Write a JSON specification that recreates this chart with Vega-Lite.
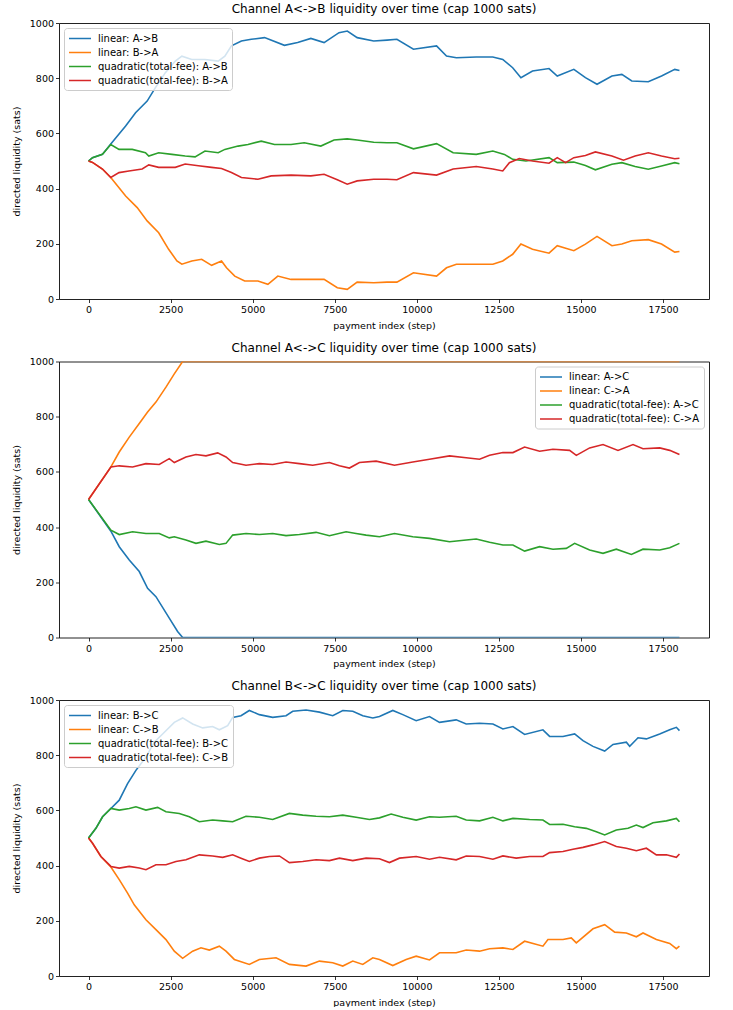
{
"$schema": "https://vega.github.io/schema/vega-lite/v6.json",
"padding": {"left": 10, "top": 2, "right": 5, "bottom": 0},
"spacing": 10.5,
"config": {
  "font": "DejaVu Sans",
  "view": {"stroke": "#222", "strokeWidth": 1},
  "axis": {"grid": false, "domain": false, "tickColor": "#000", "tickSize": 3.5, "tickWidth": 0.8, "labelColor": "#000", "labelFontSize": 9.5, "labelFont": "DejaVu Sans", "titleFont": "DejaVu Sans", "titleFontSize": 9.5, "titleFontWeight": "normal", "titleColor": "#000", "labelPadding": 2},
  "title": {"fontSize": 12, "fontWeight": "normal", "color": "#000", "font": "DejaVu Sans", "offset": 2, "frame": "group", "anchor": "middle"},
  "legend": {"orient": "top-left", "offset": 5, "fillColor": "rgba(255,255,255,0.8)", "strokeColor": "#cccccc", "cornerRadius": 3, "padding": 4, "symbolType": "M-1,0H3", "symbolSize": 121, "symbolStrokeWidth": 1.5, "labelFontSize": 10, "labelColor": "#000", "labelFont": "DejaVu Sans", "rowPadding": 2, "labelOffset": 17}
},
"resolve": {"scale": {"color": "independent"}, "legend": {"color": "independent"}},
"vconcat": [
{
  "width": 650, "height": 276,
  "title": "Channel A<->B liquidity over time (cap 1000 sats)",
  "data": {"values": [
{"series":"linear: A->B","step":0,"liq":500},{"series":"linear: A->B","step":121,"liq":512},{"series":"linear: A->B","step":423,"liq":524},{"series":"linear: A->B","step":677,"liq":562},{"series":"linear: A->B","step":1130,"liq":627},{"series":"linear: A->B","step":1432,"liq":675},{"series":"linear: A->B","step":1785,"liq":717},{"series":"linear: A->B","step":2037,"liq":766},{"series":"linear: A->B","step":2340,"liq":820},{"series":"linear: A->B","step":2642,"liq":862},{"series":"linear: A->B","step":2843,"liq":880},{"series":"linear: A->B","step":3144,"liq":868},{"series":"linear: A->B","step":3547,"liq":868},{"series":"linear: A->B","step":3950,"liq":862},{"series":"linear: A->B","step":4152,"liq":880},{"series":"linear: A->B","step":4353,"liq":917},{"series":"linear: A->B","step":4656,"liq":935},{"series":"linear: A->B","step":4958,"liq":941},{"series":"linear: A->B","step":5362,"liq":947},{"series":"linear: A->B","step":5967,"liq":919},{"series":"linear: A->B","step":6370,"liq":929},{"series":"linear: A->B","step":6772,"liq":944},{"series":"linear: A->B","step":7175,"liq":929},{"series":"linear: A->B","step":7630,"liq":965},{"series":"linear: A->B","step":7883,"liq":971},{"series":"linear: A->B","step":8183,"liq":947},{"series":"linear: A->B","step":8687,"liq":935},{"series":"linear: A->B","step":9090,"liq":938},{"series":"linear: A->B","step":9393,"liq":941},{"series":"linear: A->B","step":9897,"liq":905},{"series":"linear: A->B","step":10601,"liq":917},{"series":"linear: A->B","step":10904,"liq":880},{"series":"linear: A->B","step":11205,"liq":874},{"series":"linear: A->B","step":11811,"liq":877},{"series":"linear: A->B","step":12315,"liq":877},{"series":"linear: A->B","step":12617,"liq":868},{"series":"linear: A->B","step":12920,"liq":838},{"series":"linear: A->B","step":13171,"liq":802},{"series":"linear: A->B","step":13524,"liq":826},{"series":"linear: A->B","step":14027,"liq":835},{"series":"linear: A->B","step":14278,"liq":808},{"series":"linear: A->B","step":14783,"liq":832},{"series":"linear: A->B","step":15136,"liq":802},{"series":"linear: A->B","step":15489,"liq":778},{"series":"linear: A->B","step":15943,"liq":808},{"series":"linear: A->B","step":16245,"liq":814},{"series":"linear: A->B","step":16548,"liq":790},{"series":"linear: A->B","step":17050,"liq":787},{"series":"linear: A->B","step":17454,"liq":808},{"series":"linear: A->B","step":17857,"liq":832},{"series":"linear: A->B","step":18000,"liq":828},
{"series":"linear: B->A","step":0,"liq":500},{"series":"linear: B->A","step":121,"liq":495},{"series":"linear: B->A","step":423,"liq":471},{"series":"linear: B->A","step":677,"liq":440},{"series":"linear: B->A","step":1130,"liq":373},{"series":"linear: B->A","step":1482,"liq":331},{"series":"linear: B->A","step":1785,"liq":283},{"series":"linear: B->A","step":2137,"liq":240},{"series":"linear: B->A","step":2440,"liq":180},{"series":"linear: B->A","step":2692,"liq":138},{"series":"linear: B->A","step":2843,"liq":126},{"series":"linear: B->A","step":3144,"liq":138},{"series":"linear: B->A","step":3446,"liq":144},{"series":"linear: B->A","step":3749,"liq":122},{"series":"linear: B->A","step":4051,"liq":138},{"series":"linear: B->A","step":4203,"liq":113},{"series":"linear: B->A","step":4454,"liq":83},{"series":"linear: B->A","step":4756,"liq":65},{"series":"linear: B->A","step":5160,"liq":65},{"series":"linear: B->A","step":5463,"liq":53},{"series":"linear: B->A","step":5765,"liq":83},{"series":"linear: B->A","step":6168,"liq":71},{"series":"linear: B->A","step":6772,"liq":71},{"series":"linear: B->A","step":7175,"liq":71},{"series":"linear: B->A","step":7578,"liq":41},{"series":"linear: B->A","step":7880,"liq":35},{"series":"linear: B->A","step":8183,"liq":61},{"series":"linear: B->A","step":8687,"liq":59},{"series":"linear: B->A","step":9090,"liq":61},{"series":"linear: B->A","step":9393,"liq":61},{"series":"linear: B->A","step":9897,"liq":95},{"series":"linear: B->A","step":10601,"liq":83},{"series":"linear: B->A","step":10904,"liq":113},{"series":"linear: B->A","step":11205,"liq":126},{"series":"linear: B->A","step":11811,"liq":126},{"series":"linear: B->A","step":12315,"liq":126},{"series":"linear: B->A","step":12617,"liq":138},{"series":"linear: B->A","step":12920,"liq":162},{"series":"linear: B->A","step":13171,"liq":199},{"series":"linear: B->A","step":13524,"liq":180},{"series":"linear: B->A","step":14027,"liq":166},{"series":"linear: B->A","step":14278,"liq":193},{"series":"linear: B->A","step":14783,"liq":175},{"series":"linear: B->A","step":15136,"liq":199},{"series":"linear: B->A","step":15489,"liq":227},{"series":"linear: B->A","step":15943,"liq":193},{"series":"linear: B->A","step":16245,"liq":199},{"series":"linear: B->A","step":16548,"liq":211},{"series":"linear: B->A","step":17050,"liq":215},{"series":"linear: B->A","step":17454,"liq":199},{"series":"linear: B->A","step":17857,"liq":170},{"series":"linear: B->A","step":18000,"liq":172},
{"series":"quadratic(total-fee): A->B","step":0,"liq":500},{"series":"quadratic(total-fee): A->B","step":121,"liq":512},{"series":"quadratic(total-fee): A->B","step":423,"liq":524},{"series":"quadratic(total-fee): A->B","step":677,"liq":560},{"series":"quadratic(total-fee): A->B","step":928,"liq":542},{"series":"quadratic(total-fee): A->B","step":1331,"liq":542},{"series":"quadratic(total-fee): A->B","step":1734,"liq":530},{"series":"quadratic(total-fee): A->B","step":1835,"liq":518},{"series":"quadratic(total-fee): A->B","step":2137,"liq":530},{"series":"quadratic(total-fee): A->B","step":2541,"liq":524},{"series":"quadratic(total-fee): A->B","step":2944,"liq":518},{"series":"quadratic(total-fee): A->B","step":3245,"liq":515},{"series":"quadratic(total-fee): A->B","step":3547,"liq":536},{"series":"quadratic(total-fee): A->B","step":3950,"liq":530},{"series":"quadratic(total-fee): A->B","step":4152,"liq":542},{"series":"quadratic(total-fee): A->B","step":4555,"liq":554},{"series":"quadratic(total-fee): A->B","step":4857,"liq":560},{"series":"quadratic(total-fee): A->B","step":5261,"liq":572},{"series":"quadratic(total-fee): A->B","step":5664,"liq":560},{"series":"quadratic(total-fee): A->B","step":6168,"liq":560},{"series":"quadratic(total-fee): A->B","step":6571,"liq":566},{"series":"quadratic(total-fee): A->B","step":7075,"liq":554},{"series":"quadratic(total-fee): A->B","step":7478,"liq":576},{"series":"quadratic(total-fee): A->B","step":7880,"liq":580},{"series":"quadratic(total-fee): A->B","step":8183,"liq":576},{"series":"quadratic(total-fee): A->B","step":8687,"liq":568},{"series":"quadratic(total-fee): A->B","step":9090,"liq":566},{"series":"quadratic(total-fee): A->B","step":9393,"liq":566},{"series":"quadratic(total-fee): A->B","step":9897,"liq":544},{"series":"quadratic(total-fee): A->B","step":10601,"liq":563},{"series":"quadratic(total-fee): A->B","step":11106,"liq":530},{"series":"quadratic(total-fee): A->B","step":11811,"liq":524},{"series":"quadratic(total-fee): A->B","step":12315,"liq":536},{"series":"quadratic(total-fee): A->B","step":12667,"liq":524},{"series":"quadratic(total-fee): A->B","step":12920,"liq":506},{"series":"quadratic(total-fee): A->B","step":13323,"liq":500},{"series":"quadratic(total-fee): A->B","step":14027,"liq":512},{"series":"quadratic(total-fee): A->B","step":14278,"liq":494},{"series":"quadratic(total-fee): A->B","step":14783,"liq":496},{"series":"quadratic(total-fee): A->B","step":15136,"liq":484},{"series":"quadratic(total-fee): A->B","step":15439,"liq":468},{"series":"quadratic(total-fee): A->B","step":15943,"liq":488},{"series":"quadratic(total-fee): A->B","step":16245,"liq":494},{"series":"quadratic(total-fee): A->B","step":16649,"liq":480},{"series":"quadratic(total-fee): A->B","step":17050,"liq":470},{"series":"quadratic(total-fee): A->B","step":17454,"liq":482},{"series":"quadratic(total-fee): A->B","step":17857,"liq":494},{"series":"quadratic(total-fee): A->B","step":18000,"liq":490},
{"series":"quadratic(total-fee): B->A","step":0,"liq":500},{"series":"quadratic(total-fee): B->A","step":121,"liq":495},{"series":"quadratic(total-fee): B->A","step":423,"liq":471},{"series":"quadratic(total-fee): B->A","step":677,"liq":440},{"series":"quadratic(total-fee): B->A","step":928,"liq":458},{"series":"quadratic(total-fee): B->A","step":1230,"liq":464},{"series":"quadratic(total-fee): B->A","step":1633,"liq":471},{"series":"quadratic(total-fee): B->A","step":1835,"liq":486},{"series":"quadratic(total-fee): B->A","step":2137,"liq":477},{"series":"quadratic(total-fee): B->A","step":2642,"liq":477},{"series":"quadratic(total-fee): B->A","step":2944,"liq":489},{"series":"quadratic(total-fee): B->A","step":3346,"liq":483},{"series":"quadratic(total-fee): B->A","step":3749,"liq":477},{"series":"quadratic(total-fee): B->A","step":4051,"liq":473},{"series":"quadratic(total-fee): B->A","step":4353,"liq":458},{"series":"quadratic(total-fee): B->A","step":4656,"liq":440},{"series":"quadratic(total-fee): B->A","step":5160,"liq":434},{"series":"quadratic(total-fee): B->A","step":5564,"liq":446},{"series":"quadratic(total-fee): B->A","step":6168,"liq":449},{"series":"quadratic(total-fee): B->A","step":6772,"liq":446},{"series":"quadratic(total-fee): B->A","step":7175,"liq":452},{"series":"quadratic(total-fee): B->A","step":7578,"liq":432},{"series":"quadratic(total-fee): B->A","step":7880,"liq":416},{"series":"quadratic(total-fee): B->A","step":8183,"liq":428},{"series":"quadratic(total-fee): B->A","step":8687,"liq":434},{"series":"quadratic(total-fee): B->A","step":9090,"liq":434},{"series":"quadratic(total-fee): B->A","step":9393,"liq":432},{"series":"quadratic(total-fee): B->A","step":9897,"liq":458},{"series":"quadratic(total-fee): B->A","step":10601,"liq":449},{"series":"quadratic(total-fee): B->A","step":11106,"liq":471},{"series":"quadratic(total-fee): B->A","step":11811,"liq":480},{"series":"quadratic(total-fee): B->A","step":12315,"liq":471},{"series":"quadratic(total-fee): B->A","step":12617,"liq":464},{"series":"quadratic(total-fee): B->A","step":12819,"liq":494},{"series":"quadratic(total-fee): B->A","step":13121,"liq":509},{"series":"quadratic(total-fee): B->A","step":13524,"liq":500},{"series":"quadratic(total-fee): B->A","step":14027,"liq":492},{"series":"quadratic(total-fee): B->A","step":14278,"liq":512},{"series":"quadratic(total-fee): B->A","step":14531,"liq":494},{"series":"quadratic(total-fee): B->A","step":14783,"liq":512},{"series":"quadratic(total-fee): B->A","step":15136,"liq":520},{"series":"quadratic(total-fee): B->A","step":15439,"liq":533},{"series":"quadratic(total-fee): B->A","step":15943,"liq":518},{"series":"quadratic(total-fee): B->A","step":16295,"liq":503},{"series":"quadratic(total-fee): B->A","step":16649,"liq":518},{"series":"quadratic(total-fee): B->A","step":17050,"liq":530},{"series":"quadratic(total-fee): B->A","step":17454,"liq":518},{"series":"quadratic(total-fee): B->A","step":17857,"liq":508},{"series":"quadratic(total-fee): B->A","step":18000,"liq":510}
  ]},
  "mark": {"type": "line", "strokeWidth": 1.6, "clip": true},
  "encoding": {
    "x": {"field": "step", "type": "quantitative", "scale": {"domain": [-900, 18900], "nice": false, "zero": false}, "axis": {"values": [0, 2500, 5000, 7500, 10000, 12500, 15000, 17500], "format": "d", "title": "payment index (step)", "titlePadding": 6}},
    "y": {"field": "liq", "type": "quantitative", "scale": {"domain": [0, 1000], "nice": false}, "axis": {"values": [0, 200, 400, 600, 800, 1000], "format": "d", "title": "directed liquidity (sats)", "titlePadding": 8}},
    "color": {"field": "series", "type": "nominal", "scale": {"domain": ["linear: A->B", "linear: B->A", "quadratic(total-fee): A->B", "quadratic(total-fee): B->A"], "range": ["#1f77b4", "#ff7f0e", "#2ca02c", "#d62728"]}, "legend": {"title": null, "orient": "top-left"}}
  }
},
{
  "width": 650, "height": 276,
  "title": "Channel A<->C liquidity over time (cap 1000 sats)",
  "data": {"values": [
{"series":"linear: A->C","step":0,"liq":500},{"series":"linear: A->C","step":681,"liq":385},{"series":"linear: A->C","step":935,"liq":329},{"series":"linear: A->C","step":1240,"liq":281},{"series":"linear: A->C","step":1545,"liq":239},{"series":"linear: A->C","step":1799,"liq":178},{"series":"linear: A->C","step":2053,"liq":148},{"series":"linear: A->C","step":2459,"liq":70},{"series":"linear: A->C","step":2713,"liq":22},{"series":"linear: A->C","step":2866,"liq":0},{"series":"linear: A->C","step":18000,"liq":0},
{"series":"linear: C->A","step":0,"liq":500},{"series":"linear: C->A","step":681,"liq":618},{"series":"linear: C->A","step":935,"liq":672},{"series":"linear: C->A","step":1240,"liq":726},{"series":"linear: C->A","step":1545,"liq":775},{"series":"linear: C->A","step":1799,"liq":817},{"series":"linear: C->A","step":2053,"liq":853},{"series":"linear: C->A","step":2358,"liq":907},{"series":"linear: C->A","step":2612,"liq":955},{"series":"linear: C->A","step":2866,"liq":1000},{"series":"linear: C->A","step":18000,"liq":1000},
{"series":"quadratic(total-fee): A->C","step":0,"liq":500},{"series":"quadratic(total-fee): A->C","step":681,"liq":389},{"series":"quadratic(total-fee): A->C","step":935,"liq":373},{"series":"quadratic(total-fee): A->C","step":1341,"liq":383},{"series":"quadratic(total-fee): A->C","step":1748,"liq":377},{"series":"quadratic(total-fee): A->C","step":2154,"liq":377},{"series":"quadratic(total-fee): A->C","step":2459,"liq":361},{"series":"quadratic(total-fee): A->C","step":2612,"liq":365},{"series":"quadratic(total-fee): A->C","step":2967,"liq":353},{"series":"quadratic(total-fee): A->C","step":3272,"liq":341},{"series":"quadratic(total-fee): A->C","step":3577,"liq":349},{"series":"quadratic(total-fee): A->C","step":3984,"liq":337},{"series":"quadratic(total-fee): A->C","step":4187,"liq":341},{"series":"quadratic(total-fee): A->C","step":4390,"liq":371},{"series":"quadratic(total-fee): A->C","step":4797,"liq":377},{"series":"quadratic(total-fee): A->C","step":5203,"liq":373},{"series":"quadratic(total-fee): A->C","step":5610,"liq":377},{"series":"quadratic(total-fee): A->C","step":6016,"liq":369},{"series":"quadratic(total-fee): A->C","step":6423,"liq":373},{"series":"quadratic(total-fee): A->C","step":6931,"liq":381},{"series":"quadratic(total-fee): A->C","step":7337,"liq":369},{"series":"quadratic(total-fee): A->C","step":7846,"liq":383},{"series":"quadratic(total-fee): A->C","step":8150,"liq":377},{"series":"quadratic(total-fee): A->C","step":8455,"liq":371},{"series":"quadratic(total-fee): A->C","step":8862,"liq":365},{"series":"quadratic(total-fee): A->C","step":9319,"liq":377},{"series":"quadratic(total-fee): A->C","step":9878,"liq":365},{"series":"quadratic(total-fee): A->C","step":10386,"liq":359},{"series":"quadratic(total-fee): A->C","step":10996,"liq":347},{"series":"quadratic(total-fee): A->C","step":11504,"liq":353},{"series":"quadratic(total-fee): A->C","step":11809,"liq":357},{"series":"quadratic(total-fee): A->C","step":12215,"liq":345},{"series":"quadratic(total-fee): A->C","step":12622,"liq":335},{"series":"quadratic(total-fee): A->C","step":12927,"liq":335},{"series":"quadratic(total-fee): A->C","step":13283,"liq":313},{"series":"quadratic(total-fee): A->C","step":13740,"liq":329},{"series":"quadratic(total-fee): A->C","step":14146,"liq":320},{"series":"quadratic(total-fee): A->C","step":14553,"liq":323},{"series":"quadratic(total-fee): A->C","step":14807,"liq":341},{"series":"quadratic(total-fee): A->C","step":15264,"liq":317},{"series":"quadratic(total-fee): A->C","step":15671,"liq":305},{"series":"quadratic(total-fee): A->C","step":16077,"liq":320},{"series":"quadratic(total-fee): A->C","step":16535,"liq":301},{"series":"quadratic(total-fee): A->C","step":16890,"liq":320},{"series":"quadratic(total-fee): A->C","step":17398,"liq":317},{"series":"quadratic(total-fee): A->C","step":17703,"liq":325},{"series":"quadratic(total-fee): A->C","step":18000,"liq":341},
{"series":"quadratic(total-fee): C->A","step":0,"liq":500},{"series":"quadratic(total-fee): C->A","step":681,"liq":618},{"series":"quadratic(total-fee): C->A","step":935,"liq":622},{"series":"quadratic(total-fee): C->A","step":1341,"liq":618},{"series":"quadratic(total-fee): C->A","step":1748,"liq":630},{"series":"quadratic(total-fee): C->A","step":2154,"liq":627},{"series":"quadratic(total-fee): C->A","step":2459,"liq":648},{"series":"quadratic(total-fee): C->A","step":2612,"liq":634},{"series":"quadratic(total-fee): C->A","step":2967,"liq":654},{"series":"quadratic(total-fee): C->A","step":3272,"liq":663},{"series":"quadratic(total-fee): C->A","step":3577,"liq":658},{"series":"quadratic(total-fee): C->A","step":3933,"liq":669},{"series":"quadratic(total-fee): C->A","step":4187,"liq":654},{"series":"quadratic(total-fee): C->A","step":4390,"liq":634},{"series":"quadratic(total-fee): C->A","step":4797,"liq":624},{"series":"quadratic(total-fee): C->A","step":5203,"liq":630},{"series":"quadratic(total-fee): C->A","step":5610,"liq":627},{"series":"quadratic(total-fee): C->A","step":6016,"liq":636},{"series":"quadratic(total-fee): C->A","step":6423,"liq":630},{"series":"quadratic(total-fee): C->A","step":6829,"liq":624},{"series":"quadratic(total-fee): C->A","step":7337,"liq":634},{"series":"quadratic(total-fee): C->A","step":7642,"liq":622},{"series":"quadratic(total-fee): C->A","step":7947,"liq":614},{"series":"quadratic(total-fee): C->A","step":8252,"liq":634},{"series":"quadratic(total-fee): C->A","step":8760,"liq":639},{"series":"quadratic(total-fee): C->A","step":9319,"liq":624},{"series":"quadratic(total-fee): C->A","step":9878,"liq":636},{"series":"quadratic(total-fee): C->A","step":10386,"liq":646},{"series":"quadratic(total-fee): C->A","step":10996,"liq":658},{"series":"quadratic(total-fee): C->A","step":11504,"liq":651},{"series":"quadratic(total-fee): C->A","step":11911,"liq":646},{"series":"quadratic(total-fee): C->A","step":12215,"liq":660},{"series":"quadratic(total-fee): C->A","step":12622,"liq":670},{"series":"quadratic(total-fee): C->A","step":12927,"liq":670},{"series":"quadratic(total-fee): C->A","step":13283,"liq":690},{"series":"quadratic(total-fee): C->A","step":13740,"liq":675},{"series":"quadratic(total-fee): C->A","step":14146,"liq":682},{"series":"quadratic(total-fee): C->A","step":14654,"liq":678},{"series":"quadratic(total-fee): C->A","step":14858,"liq":660},{"series":"quadratic(total-fee): C->A","step":15264,"liq":687},{"series":"quadratic(total-fee): C->A","step":15671,"liq":699},{"series":"quadratic(total-fee): C->A","step":16128,"liq":678},{"series":"quadratic(total-fee): C->A","step":16585,"liq":699},{"series":"quadratic(total-fee): C->A","step":16890,"liq":684},{"series":"quadratic(total-fee): C->A","step":17398,"liq":687},{"series":"quadratic(total-fee): C->A","step":17703,"liq":678},{"series":"quadratic(total-fee): C->A","step":18000,"liq":663}
  ]},
  "mark": {"type": "line", "strokeWidth": 1.6, "clip": true},
  "encoding": {
    "x": {"field": "step", "type": "quantitative", "scale": {"domain": [-900, 18900], "nice": false, "zero": false}, "axis": {"values": [0, 2500, 5000, 7500, 10000, 12500, 15000, 17500], "format": "d", "title": "payment index (step)", "titlePadding": 6}},
    "y": {"field": "liq", "type": "quantitative", "scale": {"domain": [0, 1000], "nice": false}, "axis": {"values": [0, 200, 400, 600, 800, 1000], "format": "d", "title": "directed liquidity (sats)", "titlePadding": 8}},
    "color": {"field": "series", "type": "nominal", "scale": {"domain": ["linear: A->C", "linear: C->A", "quadratic(total-fee): A->C", "quadratic(total-fee): C->A"], "range": ["#1f77b4", "#ff7f0e", "#2ca02c", "#d62728"]}, "legend": {"title": null, "orient": "top-right"}}
  }
},
{
  "width": 650, "height": 276,
  "title": "Channel B<->C liquidity over time (cap 1000 sats)",
  "data": {"values": [
{"series":"linear: B->C","step":0,"liq":500},{"series":"linear: B->C","step":224,"liq":535},{"series":"linear: B->C","step":427,"liq":577},{"series":"linear: B->C","step":681,"liq":607},{"series":"linear: B->C","step":935,"liq":637},{"series":"linear: B->C","step":1189,"liq":697},{"series":"linear: B->C","step":1443,"liq":745},{"series":"linear: B->C","step":1748,"liq":793},{"series":"linear: B->C","step":2002,"liq":847},{"series":"linear: B->C","step":2256,"liq":877},{"series":"linear: B->C","step":2612,"liq":919},{"series":"linear: B->C","step":2866,"liq":935},{"series":"linear: B->C","step":3171,"liq":913},{"series":"linear: B->C","step":3476,"liq":899},{"series":"linear: B->C","step":3780,"liq":904},{"series":"linear: B->C","step":3984,"liq":892},{"series":"linear: B->C","step":4238,"liq":907},{"series":"linear: B->C","step":4390,"liq":937},{"series":"linear: B->C","step":4644,"liq":943},{"series":"linear: B->C","step":4898,"liq":962},{"series":"linear: B->C","step":5203,"liq":947},{"series":"linear: B->C","step":5610,"liq":937},{"series":"linear: B->C","step":6016,"liq":943},{"series":"linear: B->C","step":6220,"liq":959},{"series":"linear: B->C","step":6626,"liq":964},{"series":"linear: B->C","step":7033,"liq":956},{"series":"linear: B->C","step":7439,"liq":943},{"series":"linear: B->C","step":7744,"liq":962},{"series":"linear: B->C","step":8049,"liq":959},{"series":"linear: B->C","step":8354,"liq":943},{"series":"linear: B->C","step":8659,"liq":935},{"series":"linear: B->C","step":8862,"liq":940},{"series":"linear: B->C","step":9268,"liq":962},{"series":"linear: B->C","step":9573,"liq":947},{"series":"linear: B->C","step":9980,"liq":925},{"series":"linear: B->C","step":10386,"liq":940},{"series":"linear: B->C","step":10691,"liq":919},{"series":"linear: B->C","step":11199,"liq":928},{"series":"linear: B->C","step":11504,"liq":913},{"series":"linear: B->C","step":11911,"liq":916},{"series":"linear: B->C","step":12317,"liq":913},{"series":"linear: B->C","step":12622,"liq":895},{"series":"linear: B->C","step":12927,"liq":904},{"series":"linear: B->C","step":13283,"liq":875},{"series":"linear: B->C","step":13841,"liq":892},{"series":"linear: B->C","step":14045,"liq":868},{"series":"linear: B->C","step":14451,"liq":868},{"series":"linear: B->C","step":14807,"liq":877},{"series":"linear: B->C","step":15061,"liq":853},{"series":"linear: B->C","step":15366,"liq":832},{"series":"linear: B->C","step":15722,"liq":815},{"series":"linear: B->C","step":15976,"liq":839},{"series":"linear: B->C","step":16382,"liq":847},{"series":"linear: B->C","step":16484,"liq":832},{"series":"linear: B->C","step":16738,"liq":863},{"series":"linear: B->C","step":16992,"liq":859},{"series":"linear: B->C","step":17398,"liq":877},{"series":"linear: B->C","step":17703,"liq":892},{"series":"linear: B->C","step":17906,"liq":901},{"series":"linear: B->C","step":18000,"liq":889},
{"series":"linear: C->B","step":0,"liq":500},{"series":"linear: C->B","step":122,"liq":481},{"series":"linear: C->B","step":376,"liq":433},{"series":"linear: C->B","step":681,"liq":395},{"series":"linear: C->B","step":935,"liq":349},{"series":"linear: C->B","step":1189,"liq":300},{"series":"linear: C->B","step":1392,"liq":258},{"series":"linear: C->B","step":1748,"liq":204},{"series":"linear: C->B","step":2053,"liq":168},{"series":"linear: C->B","step":2358,"liq":132},{"series":"linear: C->B","step":2612,"liq":90},{"series":"linear: C->B","step":2866,"liq":64},{"series":"linear: C->B","step":3171,"liq":90},{"series":"linear: C->B","step":3425,"liq":102},{"series":"linear: C->B","step":3679,"liq":94},{"series":"linear: C->B","step":3984,"liq":108},{"series":"linear: C->B","step":4187,"liq":90},{"series":"linear: C->B","step":4441,"liq":60},{"series":"linear: C->B","step":4898,"liq":42},{"series":"linear: C->B","step":5203,"liq":60},{"series":"linear: C->B","step":5711,"liq":66},{"series":"linear: C->B","step":6118,"liq":42},{"series":"linear: C->B","step":6626,"liq":36},{"series":"linear: C->B","step":7033,"liq":54},{"series":"linear: C->B","step":7439,"liq":48},{"series":"linear: C->B","step":7744,"liq":36},{"series":"linear: C->B","step":8049,"liq":54},{"series":"linear: C->B","step":8354,"liq":42},{"series":"linear: C->B","step":8659,"liq":66},{"series":"linear: C->B","step":8862,"liq":60},{"series":"linear: C->B","step":9268,"liq":38},{"series":"linear: C->B","step":9675,"liq":60},{"series":"linear: C->B","step":9980,"liq":72},{"series":"linear: C->B","step":10386,"liq":58},{"series":"linear: C->B","step":10691,"liq":84},{"series":"linear: C->B","step":11199,"liq":84},{"series":"linear: C->B","step":11504,"liq":94},{"series":"linear: C->B","step":11911,"liq":90},{"series":"linear: C->B","step":12215,"liq":99},{"series":"linear: C->B","step":12622,"liq":102},{"series":"linear: C->B","step":12927,"liq":96},{"series":"linear: C->B","step":13283,"liq":126},{"series":"linear: C->B","step":13841,"liq":108},{"series":"linear: C->B","step":13994,"liq":132},{"series":"linear: C->B","step":14451,"liq":132},{"series":"linear: C->B","step":14705,"liq":138},{"series":"linear: C->B","step":14858,"liq":120},{"series":"linear: C->B","step":15366,"liq":171},{"series":"linear: C->B","step":15722,"liq":186},{"series":"linear: C->B","step":16027,"liq":159},{"series":"linear: C->B","step":16382,"liq":156},{"series":"linear: C->B","step":16687,"liq":142},{"series":"linear: C->B","step":16890,"liq":156},{"series":"linear: C->B","step":17297,"liq":132},{"series":"linear: C->B","step":17703,"liq":118},{"series":"linear: C->B","step":17906,"liq":99},{"series":"linear: C->B","step":18000,"liq":108},
{"series":"quadratic(total-fee): B->C","step":0,"liq":500},{"series":"quadratic(total-fee): B->C","step":224,"liq":535},{"series":"quadratic(total-fee): B->C","step":427,"liq":577},{"series":"quadratic(total-fee): B->C","step":681,"liq":607},{"series":"quadratic(total-fee): B->C","step":935,"liq":601},{"series":"quadratic(total-fee): B->C","step":1240,"liq":607},{"series":"quadratic(total-fee): B->C","step":1443,"liq":613},{"series":"quadratic(total-fee): B->C","step":1748,"liq":601},{"series":"quadratic(total-fee): B->C","step":2104,"liq":611},{"series":"quadratic(total-fee): B->C","step":2358,"liq":595},{"series":"quadratic(total-fee): B->C","step":2764,"liq":589},{"series":"quadratic(total-fee): B->C","step":3069,"liq":577},{"series":"quadratic(total-fee): B->C","step":3374,"liq":559},{"series":"quadratic(total-fee): B->C","step":3780,"liq":565},{"series":"quadratic(total-fee): B->C","step":4085,"liq":562},{"series":"quadratic(total-fee): B->C","step":4390,"liq":559},{"series":"quadratic(total-fee): B->C","step":4797,"liq":579},{"series":"quadratic(total-fee): B->C","step":5203,"liq":575},{"series":"quadratic(total-fee): B->C","step":5610,"liq":567},{"series":"quadratic(total-fee): B->C","step":6118,"liq":589},{"series":"quadratic(total-fee): B->C","step":6524,"liq":583},{"series":"quadratic(total-fee): B->C","step":6931,"liq":579},{"series":"quadratic(total-fee): B->C","step":7337,"liq":577},{"series":"quadratic(total-fee): B->C","step":7744,"liq":583},{"series":"quadratic(total-fee): B->C","step":8150,"liq":575},{"series":"quadratic(total-fee): B->C","step":8557,"liq":567},{"series":"quadratic(total-fee): B->C","step":8862,"liq":573},{"series":"quadratic(total-fee): B->C","step":9217,"liq":587},{"series":"quadratic(total-fee): B->C","step":9573,"liq":575},{"series":"quadratic(total-fee): B->C","step":9980,"liq":565},{"series":"quadratic(total-fee): B->C","step":10386,"liq":577},{"series":"quadratic(total-fee): B->C","step":10691,"liq":575},{"series":"quadratic(total-fee): B->C","step":11199,"liq":579},{"series":"quadratic(total-fee): B->C","step":11504,"liq":565},{"series":"quadratic(total-fee): B->C","step":11911,"liq":562},{"series":"quadratic(total-fee): B->C","step":12317,"liq":575},{"series":"quadratic(total-fee): B->C","step":12622,"liq":562},{"series":"quadratic(total-fee): B->C","step":12927,"liq":571},{"series":"quadratic(total-fee): B->C","step":13435,"liq":567},{"series":"quadratic(total-fee): B->C","step":13841,"liq":565},{"series":"quadratic(total-fee): B->C","step":14045,"liq":549},{"series":"quadratic(total-fee): B->C","step":14451,"liq":550},{"series":"quadratic(total-fee): B->C","step":14807,"liq":541},{"series":"quadratic(total-fee): B->C","step":15163,"liq":535},{"series":"quadratic(total-fee): B->C","step":15468,"liq":523},{"series":"quadratic(total-fee): B->C","step":15722,"liq":511},{"series":"quadratic(total-fee): B->C","step":16077,"liq":529},{"series":"quadratic(total-fee): B->C","step":16433,"liq":535},{"series":"quadratic(total-fee): B->C","step":16687,"liq":547},{"series":"quadratic(total-fee): B->C","step":16890,"liq":538},{"series":"quadratic(total-fee): B->C","step":17195,"liq":555},{"series":"quadratic(total-fee): B->C","step":17602,"liq":562},{"series":"quadratic(total-fee): B->C","step":17906,"liq":571},{"series":"quadratic(total-fee): B->C","step":18000,"liq":559},
{"series":"quadratic(total-fee): C->B","step":0,"liq":500},{"series":"quadratic(total-fee): C->B","step":122,"liq":481},{"series":"quadratic(total-fee): C->B","step":376,"liq":433},{"series":"quadratic(total-fee): C->B","step":681,"liq":397},{"series":"quadratic(total-fee): C->B","step":935,"liq":391},{"series":"quadratic(total-fee): C->B","step":1240,"liq":397},{"series":"quadratic(total-fee): C->B","step":1545,"liq":391},{"series":"quadratic(total-fee): C->B","step":1748,"liq":385},{"series":"quadratic(total-fee): C->B","step":2053,"liq":403},{"series":"quadratic(total-fee): C->B","step":2358,"liq":403},{"series":"quadratic(total-fee): C->B","step":2663,"liq":415},{"series":"quadratic(total-fee): C->B","step":2967,"liq":421},{"series":"quadratic(total-fee): C->B","step":3374,"liq":439},{"series":"quadratic(total-fee): C->B","step":3780,"liq":435},{"series":"quadratic(total-fee): C->B","step":4085,"liq":430},{"series":"quadratic(total-fee): C->B","step":4390,"liq":439},{"series":"quadratic(total-fee): C->B","step":4644,"liq":427},{"series":"quadratic(total-fee): C->B","step":4898,"liq":415},{"series":"quadratic(total-fee): C->B","step":5203,"liq":427},{"series":"quadratic(total-fee): C->B","step":5508,"liq":433},{"series":"quadratic(total-fee): C->B","step":5813,"liq":435},{"series":"quadratic(total-fee): C->B","step":6118,"liq":411},{"series":"quadratic(total-fee): C->B","step":6524,"liq":415},{"series":"quadratic(total-fee): C->B","step":6931,"liq":421},{"series":"quadratic(total-fee): C->B","step":7337,"liq":418},{"series":"quadratic(total-fee): C->B","step":7642,"liq":427},{"series":"quadratic(total-fee): C->B","step":8049,"liq":418},{"series":"quadratic(total-fee): C->B","step":8455,"liq":427},{"series":"quadratic(total-fee): C->B","step":8862,"liq":425},{"series":"quadratic(total-fee): C->B","step":9166,"liq":411},{"series":"quadratic(total-fee): C->B","step":9471,"liq":427},{"series":"quadratic(total-fee): C->B","step":9980,"liq":433},{"series":"quadratic(total-fee): C->B","step":10386,"liq":423},{"series":"quadratic(total-fee): C->B","step":10691,"liq":430},{"series":"quadratic(total-fee): C->B","step":11199,"liq":421},{"series":"quadratic(total-fee): C->B","step":11504,"liq":435},{"series":"quadratic(total-fee): C->B","step":11911,"liq":433},{"series":"quadratic(total-fee): C->B","step":12317,"liq":423},{"series":"quadratic(total-fee): C->B","step":12622,"liq":435},{"series":"quadratic(total-fee): C->B","step":13028,"liq":427},{"series":"quadratic(total-fee): C->B","step":13435,"liq":433},{"series":"quadratic(total-fee): C->B","step":13841,"liq":433},{"series":"quadratic(total-fee): C->B","step":14045,"liq":447},{"series":"quadratic(total-fee): C->B","step":14451,"liq":451},{"series":"quadratic(total-fee): C->B","step":14756,"liq":459},{"series":"quadratic(total-fee): C->B","step":15061,"liq":466},{"series":"quadratic(total-fee): C->B","step":15366,"liq":475},{"series":"quadratic(total-fee): C->B","step":15722,"liq":487},{"series":"quadratic(total-fee): C->B","step":16077,"liq":469},{"series":"quadratic(total-fee): C->B","step":16382,"liq":463},{"series":"quadratic(total-fee): C->B","step":16687,"liq":454},{"series":"quadratic(total-fee): C->B","step":16992,"liq":463},{"series":"quadratic(total-fee): C->B","step":17297,"liq":439},{"series":"quadratic(total-fee): C->B","step":17602,"liq":439},{"series":"quadratic(total-fee): C->B","step":17906,"liq":430},{"series":"quadratic(total-fee): C->B","step":18000,"liq":442}
  ]},
  "mark": {"type": "line", "strokeWidth": 1.6, "clip": true},
  "encoding": {
    "x": {"field": "step", "type": "quantitative", "scale": {"domain": [-900, 18900], "nice": false, "zero": false}, "axis": {"values": [0, 2500, 5000, 7500, 10000, 12500, 15000, 17500], "format": "d", "title": "payment index (step)", "titlePadding": 6}},
    "y": {"field": "liq", "type": "quantitative", "scale": {"domain": [0, 1000], "nice": false}, "axis": {"values": [0, 200, 400, 600, 800, 1000], "format": "d", "title": "directed liquidity (sats)", "titlePadding": 8}},
    "color": {"field": "series", "type": "nominal", "scale": {"domain": ["linear: B->C", "linear: C->B", "quadratic(total-fee): B->C", "quadratic(total-fee): C->B"], "range": ["#1f77b4", "#ff7f0e", "#2ca02c", "#d62728"]}, "legend": {"title": null, "orient": "top-left"}}
  }
}
]
}
